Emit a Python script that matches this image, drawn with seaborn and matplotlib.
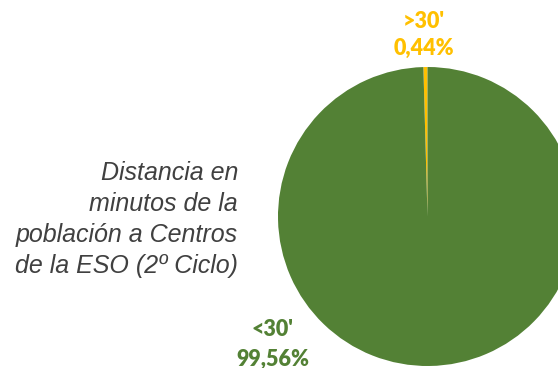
import matplotlib
matplotlib.use("Agg")
import matplotlib.pyplot as plt
import seaborn as sns

categories = [">30'", "<30'"]
values = [0.44, 99.56]
value_labels = ["0,44%", "99,56%"]
colors = ["#FFC000", "#538135"]
title_lines = ["Distancia en", "minutos de la", "población a Centros", "de la ESO (2º Ciclo)"]

sns.set_theme(style="white")
plt.rcParams['font.family'] = ['Liberation Sans', 'DejaVu Sans']

W, H = 558, 368
fig = plt.figure(figsize=(W / 100, H / 100), dpi=100)
ax = fig.add_axes([0, 0, 1, 1])

ax.pie(values, colors=colors, startangle=90, counterclock=True,
       center=(427.5, H - 216.5), radius=149.5,
       wedgeprops=dict(linewidth=0))
ax.set_xlim(0, W)
ax.set_ylim(0, H)
ax.set_aspect('equal')
ax.axis('off')

# data labels
lab_pos = [(423.5, 21.5, 48.5), (272.5, 330, 359)]
for cat, vl, col, (x, y1, y2) in zip(categories, value_labels, colors, lab_pos):
    ax.text(x, H - y1, cat, color=col, fontsize=15.5, fontweight='heavy',
            family=['Lato', 'DejaVu Sans'], ha='center', va='center')
    ax.text(x, H - y2, vl, color=col, fontsize=15.5, fontweight='heavy',
            family=['Lato', 'DejaVu Sans'], ha='center', va='center')

# side title
for i, line in enumerate(title_lines):
    ax.text(238, H - (173 + 31 * i), line, color="#404040", fontsize=18,
            style='italic', ha='right', va='center')

fig.savefig("out.png", dpi=100)
